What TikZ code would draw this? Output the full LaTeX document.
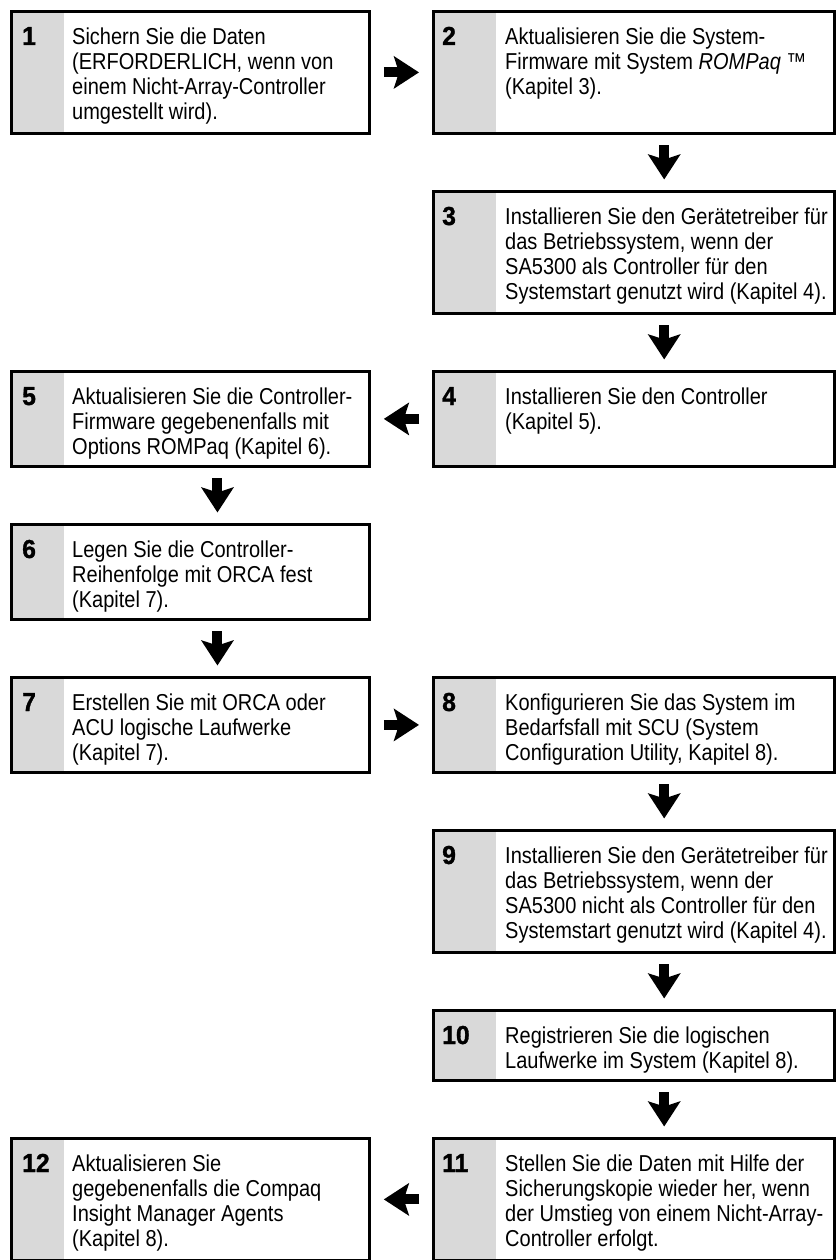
\documentclass[tikz,border=0pt]{standalone}
\usepackage{fontspec}
\setmainfont{Liberation Sans}[FakeStretch=0.87]
\newfontfamily\numfont{Liberation Sans}[FakeStretch=0.95, BoldFeatures={FakeBold=1.2}]
\usepackage{tikz}
\usetikzlibrary{arrows.meta, calc, positioning}
\definecolor{stepgray}{RGB}{217,217,217}

\begin{document}
\begin{tikzpicture}[x=1pt, y=-1pt,
  band/.store in=\bandw, band=53pt,
  lbox/.style={draw, line width=2.8pt, anchor=north west, inner sep=0pt, minimum width=358pt, band=53pt,
    path picture={\fill[stepgray] (path picture bounding box.north west) rectangle ([xshift=\bandw]path picture bounding box.south west);}},
  rbox/.style={lbox, minimum width=401pt, band=63pt},
  num/.style={anchor=base west, inner sep=0pt, font=\fontsize{26}{26}\numfont\bfseries},
  txt/.style={anchor=north west, inner sep=0pt, align=left, font=\fontsize{23}{25}\selectfont, execute at begin node=\strut},
  flow/.style={line width=10pt, -{Stealth[length=25pt, width=32pt, inset=5pt]}, shorten <=13pt, shorten >=13pt},
  down/.style={flow, shorten <=10.5pt, shorten >=10.5pt}
]
  \useasboundingbox (0,0) rectangle (835,1260);

  % row 1
  \node[lbox, minimum height=122pt] (s1) at (10,10) {};
  \node[num] (n1) at ([shift={(12,35)}]s1.north west) {1};
  \node[txt] (t1) at ([shift={(62,17.5)}]s1.north west) {Sichern Sie die Daten\\(ERFORDERLICH, wenn von\\einem Nicht-Array-Controller\\umgestellt wird).};
  \node[rbox, minimum height=122pt] (s2) at (432,10) {};
  \node[num] (n2) at ([shift={(10,35)}]s2.north west) {2};
  \node[txt] (t2) at ([shift={(73,17.5)}]s2.north west) {Aktualisieren Sie die System-\\Firmware mit System \textit{ROMPaq} ™\\(Kapitel 3).};

  % row 2
  \node[rbox, minimum height=122pt] (s3) at (432,190) {};
  \node[num] (n3) at ([shift={(10,35)}]s3.north west) {3};
  \node[txt] (t3) at ([shift={(73,17.5)}]s3.north west) {Installieren Sie den Gerätetreiber für\\das Betriebssystem, wenn der\\SA5300 als Controller für den\\Systemstart genutzt wird (Kapitel 4).};

  % row 3
  \node[lbox, minimum height=95pt] (s5) at (10,370) {};
  \node[num] (n5) at ([shift={(12,35)}]s5.north west) {5};
  \node[txt] (t5) at ([shift={(62,17.5)}]s5.north west) {Aktualisieren Sie die Controller-\\Firmware gegebenenfalls mit\\Options ROMPaq (Kapitel 6).};
  \node[rbox, minimum height=95pt] (s4) at (432,370) {};
  \node[num] (n4) at ([shift={(10,35)}]s4.north west) {4};
  \node[txt] (t4) at ([shift={(73,17.5)}]s4.north west) {Installieren Sie den Controller\\(Kapitel 5).};

  % row 4
  \node[lbox, minimum height=95pt] (s6) at (10,523) {};
  \node[num] (n6) at ([shift={(12,35)}]s6.north west) {6};
  \node[txt] (t6) at ([shift={(62,17.5)}]s6.north west) {Legen Sie die Controller-\\Reihenfolge mit ORCA fest\\(Kapitel 7).};

  % row 5
  \node[lbox, minimum height=95pt] (s7) at (10,676) {};
  \node[num] (n7) at ([shift={(12,35)}]s7.north west) {7};
  \node[txt] (t7) at ([shift={(62,17.5)}]s7.north west) {Erstellen Sie mit ORCA oder\\ACU logische Laufwerke\\(Kapitel 7).};
  \node[rbox, minimum height=95pt] (s8) at (432,676) {};
  \node[num] (n8) at ([shift={(10,35)}]s8.north west) {8};
  \node[txt] (t8) at ([shift={(73,17.5)}]s8.north west) {Konfigurieren Sie das System im\\Bedarfsfall mit SCU (System\\Configuration Utility, Kapitel 8).};

  % row 6
  \node[rbox, minimum height=122pt] (s9) at (432,829) {};
  \node[num] (n9) at ([shift={(10,35)}]s9.north west) {9};
  \node[txt] (t9) at ([shift={(73,17.5)}]s9.north west) {Installieren Sie den Gerätetreiber für\\das Betriebssystem, wenn der\\SA5300 nicht als Controller für den\\Systemstart genutzt wird (Kapitel 4).};

  % row 7
  \node[rbox, minimum height=70pt] (s10) at (432,1009) {};
  \node[num] (n10) at ([shift={(10,35)}]s10.north west) {10};
  \node[txt] (t10) at ([shift={(73,17.5)}]s10.north west) {Registrieren Sie die logischen\\Laufwerke im System (Kapitel 8).};

  % row 8
  \node[lbox, minimum height=122pt] (s12) at (10,1137) {};
  \node[num] (n12) at ([shift={(12,35)}]s12.north west) {12};
  \node[txt] (t12) at ([shift={(62,17.5)}]s12.north west) {Aktualisieren Sie\\gegebenenfalls die Compaq\\Insight Manager Agents\\(Kapitel 8).};
  \node[rbox, minimum height=122pt] (s11) at (432,1137) {};
  \node[num] (n11) at ([shift={(10,35)}]s11.north west) {11};
  \node[txt] (t11) at ([shift={(73,17.5)}]s11.north west) {Stellen Sie die Daten mit Hilfe der\\Sicherungskopie wieder her, wenn\\der Umstieg von einem Nicht-Array-\\Controller erfolgt.};

  % arrows
  \draw[flow] (s1) -- (s2);
  \draw[down] ($(s2.south west)!.575!(s2.south east)$) -- ($(s3.north west)!.575!(s3.north east)$);
  \draw[down] ($(s3.south west)!.575!(s3.south east)$) -- ($(s4.north west)!.575!(s4.north east)$);
  \draw[flow] (s4) -- (s5);
  \draw[down] ($(s5.south west)!.575!(s5.south east)$) -- ($(s6.north west)!.575!(s6.north east)$);
  \draw[down] ($(s6.south west)!.575!(s6.south east)$) -- ($(s7.north west)!.575!(s7.north east)$);
  \draw[flow] (s7) -- (s8);
  \draw[down] ($(s8.south west)!.575!(s8.south east)$) -- ($(s9.north west)!.575!(s9.north east)$);
  \draw[down] ($(s9.south west)!.575!(s9.south east)$) -- ($(s10.north west)!.575!(s10.north east)$);
  \draw[down] ($(s10.south west)!.575!(s10.south east)$) -- ($(s11.north west)!.575!(s11.north east)$);
  \draw[flow] (s11) -- (s12);
\end{tikzpicture}
\end{document}
